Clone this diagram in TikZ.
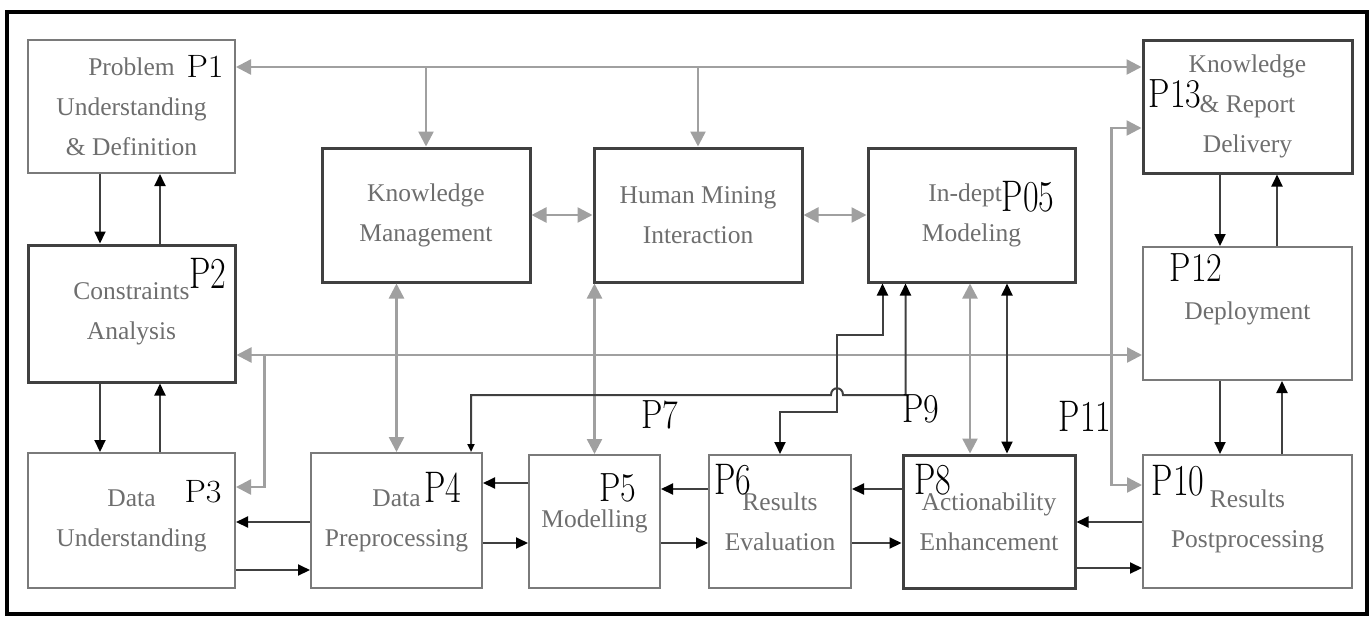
\documentclass[tikz,border=0pt]{standalone}
\usepackage{fontspec}
\newfontfamily\boxfont{Liberation Serif}
\usetikzlibrary{arrows.meta,calc}
\definecolor{lgray}{HTML}{A0A0A0}
\definecolor{dgray}{HTML}{404040}
\definecolor{tgray}{HTML}{6E6E6E}
\definecolor{bthin}{HTML}{7A7A7A}
\newcommand\plab[2]{\scalebox{1}[#1]{#2}}
\tikzset{
  box/.style={draw=bthin, line width=2pt, rectangle, inner sep=0pt, align=center,
    text=tgray, font=\boxfont\fontsize{25.5pt}{40pt}\selectfont},
  boxthick/.style={box, draw=dgray, line width=3pt},
  gline/.style={draw=lgray, line width=2.5pt, >={Triangle[length=15pt,width=15pt]}},
  bline/.style={draw=dgray, line width=2pt, >={Triangle[length=12pt,width=11pt,color=black]}},
  plabel/.style={inner sep=0pt, text=black, font=\fontsize{34pt}{34pt}\selectfont}
}
\begin{document}
\begin{tikzpicture}[x=1pt,y=-1pt]
\useasboundingbox (0,0) rectangle (1372,622);
\draw[line width=4pt] (7,12) rectangle (1367,614);

% boxes
\node[box, minimum width=207pt, minimum height=133pt] (p1) at (131.5,106.5) {Problem\\Understanding\\\& Definition};
\node[boxthick, minimum width=207pt, minimum height=137pt] (p2) at (131.5,313.5) {Constraints\\Analysis};
\node[box, minimum width=207pt, minimum height=135pt] (p3) at (131.5,520.5) {Data\\Understanding};
\node[box, minimum width=171pt, minimum height=135pt] (p4) at (396.5,520.5) {Data\\Preprocessing};
\node[box, minimum width=131pt, minimum height=133pt] (p5) at (594.5,521.5) {Modelling};
\node[box, minimum width=142pt, minimum height=133pt] (p6) at (780,521.5) {Results\\Evaluation};
\node[boxthick, minimum width=172pt, minimum height=133pt] (p8) at (989,521.5) {Actionability\\Enhancement};
\node[box, minimum width=209pt, minimum height=133pt] (p10) at (1247.5,521.5) {Results\\Postprocessing};
\node[box, minimum width=209pt, minimum height=133pt] (p12) at (1247.5,313.5) {Deployment};
\node[boxthick, minimum width=209pt, minimum height=133pt] (p13) at (1247.5,106.5) {Knowledge\\\& Report\\Delivery};
\node[boxthick, minimum width=208pt, minimum height=134pt] (km) at (426,215) {Knowledge\\Management};
\node[boxthick, minimum width=208pt, minimum height=134pt] (hmi) at (698,215) {Human Mining\\Interaction};
\node[boxthick, minimum width=207pt, minimum height=134pt] (idm) at (971.5,215) {In-depth\\Modeling};

% gray connectors
\draw[gline,<->] ($(p1.north east)+(0,28)$) coordinate (busA) -- (busA -| p13.west);
\draw[gline,->] (km.north |- busA) -- (km.north);
\draw[gline,->] (hmi.north |- busA) -- (hmi.north);
\draw[gline,<->] (km.east) -- (hmi.west);
\draw[gline,<->] (hmi.east) -- (idm.west);
\draw[gline,<->] ($(p2.east)+(0,41.5)$) coordinate (busB) -- (busB -| p12.west);
\draw[gline,->] ($(busB)+(28,0)$) |- ($(p3.east)+(0,-33.5)$);
\draw[gline,<->] (p4.north) -- (p4.north |- km.south);
\draw[gline,<->] (p5.north) -- (p5.north |- hmi.south);
\draw[gline,<->] ($(idm.south)+(-1.5,0)$) coordinate (t) -- (t |- p8.north);
\draw[gline,<->] ($(p13.west)+(0,21.5)$) -- ++(-30,0) |- ($(p10.west)+(0,-36.5)$);

% black vertical connectors
\draw[bline,->] ($(p1.south)+(-31.5,0)$) coordinate (t) -- (t |- p2.north);
\draw[bline,->] ($(p2.north)+(28.5,0)$) coordinate (t) -- (t |- p1.south);
\draw[bline,->] ($(p2.south)+(-31.5,0)$) coordinate (t) -- (t |- p3.north);
\draw[bline,->] ($(p3.north)+(28.5,0)$) coordinate (t) -- (t |- p2.south);
\draw[bline,->] ($(p13.south)+(-27.5,0)$) coordinate (t) -- (t |- p12.north);
\draw[bline,->] ($(p12.north)+(29.5,0)$) coordinate (t) -- (t |- p13.south);
\draw[bline,->] ($(p12.south)+(-27.5,0)$) coordinate (t) -- (t |- p10.north);
\draw[bline,->] ($(p10.north)+(34.5,0)$) coordinate (t) -- (t |- p12.south);

% black horizontal connectors
\draw[bline,->] ($(p4.west)+(0,1.5)$) coordinate (t) -- (t -| p3.east);
\draw[bline,->] ($(p3.east)+(0,49.5)$) coordinate (t) -- (t -| p4.west);
\draw[bline,->] ($(p5.west)+(0,-38.5)$) coordinate (t) -- (t -| p4.east);
\draw[bline,->] ($(p4.east)+(0,22.5)$) coordinate (t) -- (t -| p5.west);
\draw[bline,->] ($(p6.west)+(0,-32.5)$) coordinate (t) -- (t -| p5.east);
\draw[bline,->] ($(p5.east)+(0,21.5)$) coordinate (t) -- (t -| p6.west);
\draw[bline,->] ($(p8.west)+(0,-32.5)$) coordinate (t) -- (t -| p6.east);
\draw[bline,->] ($(p6.east)+(0,21.5)$) coordinate (t) -- (t -| p8.west);
\draw[bline,->] ($(p10.west)+(0,0.5)$) coordinate (t) -- (t -| p8.east);
\draw[bline,->] ($(p8.east)+(0,46.5)$) coordinate (t) -- (t -| p10.west);

% black connectors to in-depth modeling
\draw[bline,<->] ($(idm.south)+(35.5,0)$) coordinate (t) -- (t |- p8.north);
\coordinate (jx) at (837,395);
\draw[bline,<->] (p6.north) |- ($(jx)+(0,17)$) -- ($(jx)+(0,-60)$) -| ($(idm.south west)+(16,0)$);
\draw[bline,arrows={Triangle[length=8pt,width=7pt,color=black]-Triangle[length=12pt,width=11pt,color=black]}]
  ($(p4.north east)+(-12,0)$) |- ($(jx)+(-6,0)$) .. controls +(0,-9) and +(0,-9) .. ($(jx)+(6,0)$) -| ($(idm.south west)+(39,0)$);

% labels
\node[plabel] (l1) at (205,66) {\plab{0.95}{P1}};
\node[plabel] (l2) at (208,273) {\plab{1.3}{P2}};
\node[plabel] (l3) at (203,492) {\plab{0.95}{P3}};
\node[plabel] (l4) at (443,487) {\plab{1.3}{P4}};
\node[plabel] (l5) at (618,488) {\plab{1.2}{P5}};
\node[plabel] (l6) at (733,480) {\plab{1.3}{P6}};
\node[plabel] (l7) at (660,415) {\plab{1.2}{P7}};
\node[plabel] (l8) at (933,480) {\plab{1.3}{P8}};
\node[plabel] (l9) at (921,409) {\plab{1.2}{P9}};
\node[plabel] (l10) at (1178,481) {\plab{1.3}{P10}};
\node[plabel] (l11) at (1085,416) {\plab{1.3}{P11}};
\node[plabel] (l12) at (1196,268) {\plab{1.2}{P12}};
\node[plabel] (l13) at (1175,94) {\plab{1.2}{P13}};
\node[plabel, fill=white] (l05) at (1028,197) {\plab{1.3}{P05}};
\end{tikzpicture}
\end{document}
